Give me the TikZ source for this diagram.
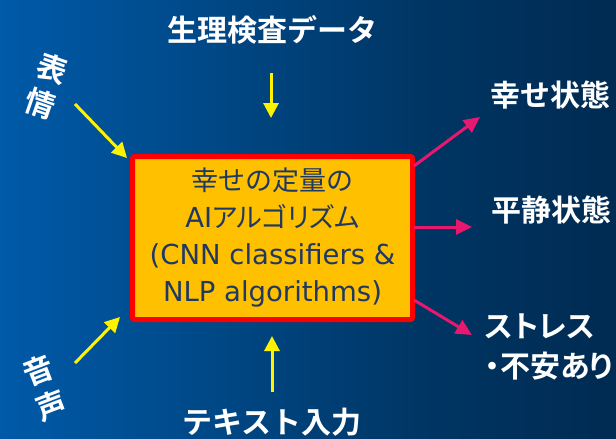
\documentclass[tikz,border=0pt]{standalone}
\usepackage{fontspec}
\setmainfont{Noto Sans CJK JP}[BoldFont={Noto Sans CJK JP Bold}]
\newfontfamily\jpp{Noto Sans CJK JP}[BoldFont={Noto Sans CJK JP Bold}, RawFeature=+palt]
\newfontfamily\latf{DejaVu Sans}
\usetikzlibrary{arrows.meta}
\definecolor{bgA}{HTML}{005AA8}
\definecolor{bgB}{HTML}{003563}
\definecolor{bgC}{HTML}{002B52}
\definecolor{boxc}{HTML}{FFC000}
\definecolor{navytext}{HTML}{1F3864}
\definecolor{pinkc}{HTML}{E8186E}
\pgfdeclarehorizontalshading{bgshade}{100bp}{color(0bp)=(bgA); color(25bp)=(bgA); color(60bp)=(bgB); color(75bp)=(bgC); color(100bp)=(bgC)}
\tikzset{
  lbl/.style={text=white, font=\fontsize{30}{37}\selectfont\bfseries, inner sep=0pt},
  yarr/.style={draw=yellow, line width=3pt, -{Triangle[width=15pt,length=15pt]}},
  parr/.style={draw=pinkc, line width=3pt, -{Triangle[width=15pt,length=16pt]}},
  algobox/.style={draw=red, line width=5pt, fill=boxc, minimum width=280pt, minimum height=163pt,
    rounded corners=2pt, align=center, text=navytext, font=\fontsize{27}{37}\selectfont, inner sep=0pt}
}
\begin{document}
\begin{tikzpicture}[x=1pt,y=-1pt]
\useasboundingbox (0,0) rectangle (616,439);
\shade[shading=bgshade] (0,0) rectangle (616,439);

\node[algobox] (algo) at (272.5,238) {幸せの定量の\\{\latf\fontsize{27.5}{37}\selectfont AI}{\jpp アルゴリズム}\\{\latf\fontsize{27.5}{37}\selectfont (CNN classifiers \&}\\{\latf\fontsize{27.5}{37}\selectfont NLP algorithms)}};

\node[lbl] (phys) at (272,30) {生理検査データ};
\node[lbl] (txt) at (272,422) {テキスト入力};
\node[lbl, align=center, rotate=-19] (face) at (46,86) {表\\情};
\node[lbl, align=center, rotate=21] (voice) at (45,388) {音\\声};
\node[lbl] (happy) at (550,95) {幸せ状態};
\node[lbl] (calm) at (551,210) {平静状態};
\node[lbl, align=left, anchor=west, font=\fontsize{30}{40}\selectfont\jpp\bfseries] (stress) at (485,347) {ストレス\\・不安あり};

\coordinate (pa) at (271,73);  \coordinate (pb) at (271,118);
\coordinate (ta) at (272,392); \coordinate (tb) at (272,336);
\coordinate (fa) at (75,104);  \coordinate (fb) at (127,158);
\coordinate (va) at (75,363);  \coordinate (vb) at (120,317);
\draw[yarr] (pa) -- (pb);
\draw[yarr] (ta) -- (tb);
\draw[yarr] (fa) -- (fb);
\draw[yarr] (va) -- (vb);

\coordinate (o1) at (414,166); \coordinate (e1) at (480,117);
\coordinate (o2) at (414,227); \coordinate (e2) at (472,227);
\coordinate (o3) at (414,300); \coordinate (e3) at (472,335);
\draw[parr] (o1) -- (e1);
\draw[parr] (o2) -- (e2);
\draw[parr] (o3) -- (e3);
\end{tikzpicture}
\end{document}
